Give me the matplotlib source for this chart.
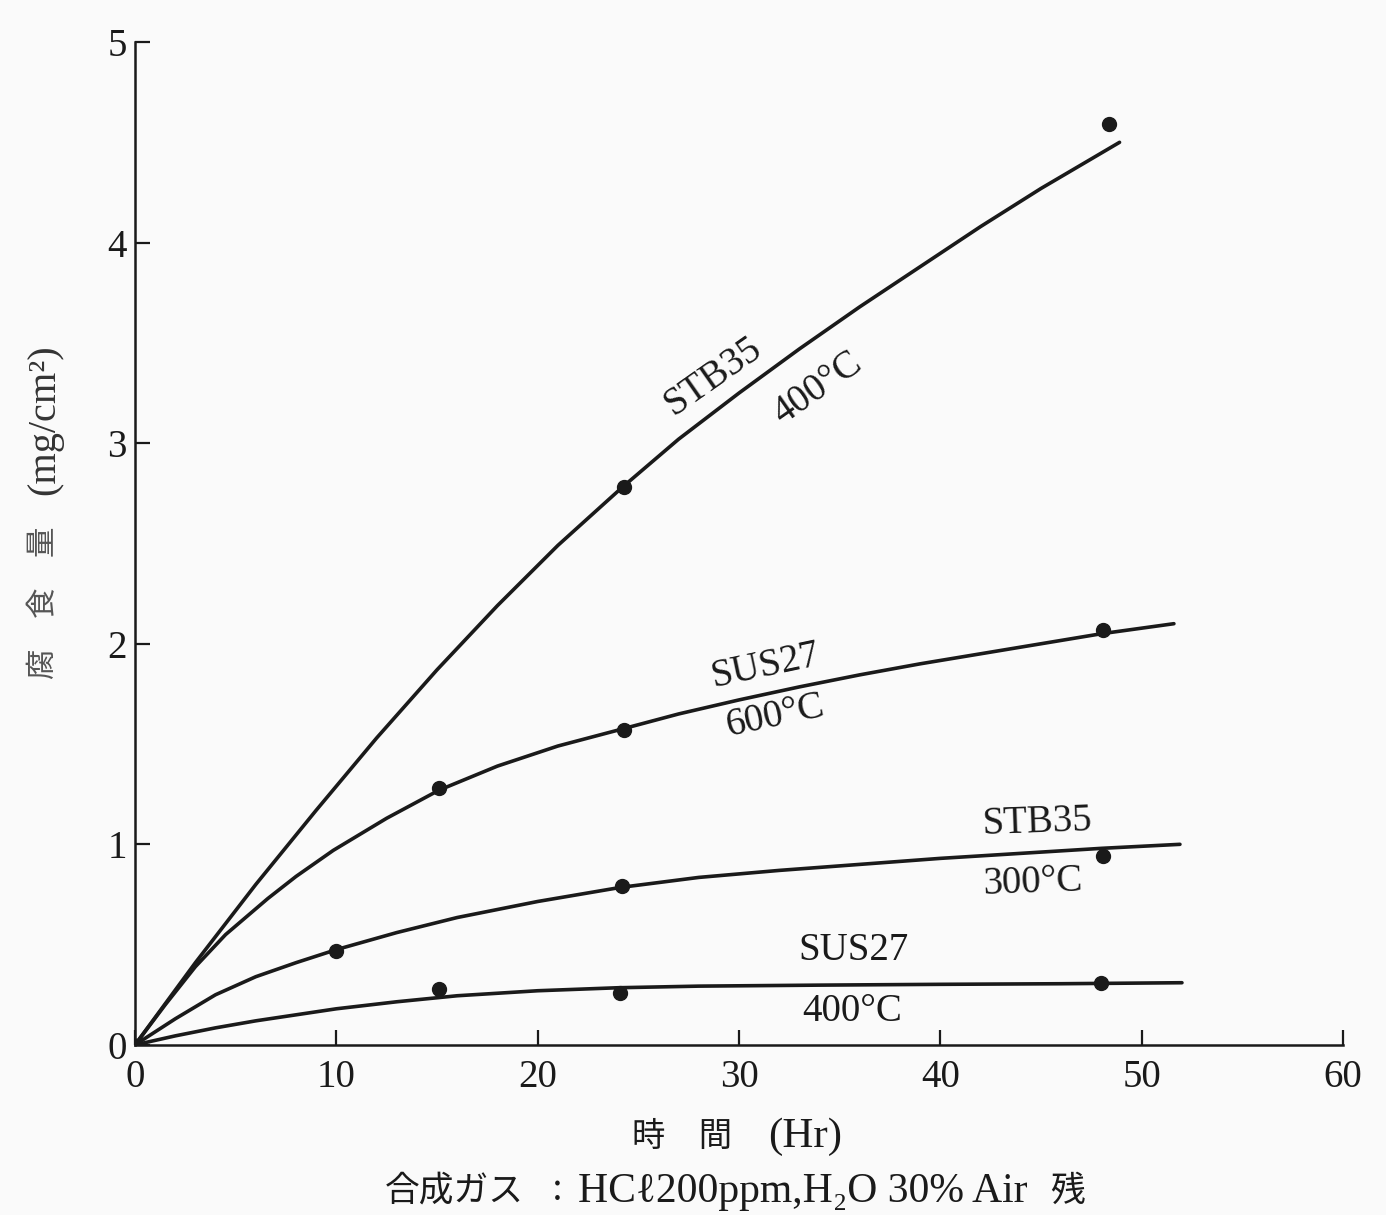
"""
Corrosion loss vs. exposure time for STB35 / SUS27 in synthetic gas
(HCl 200ppm, H2O 30%, balance air). Values read off the scanned figure.
"""

import matplotlib
matplotlib.use("Agg")
import matplotlib.pyplot as plt

plt.rcParams["font.family"] = ["Liberation Serif", "Noto Sans CJK JP", "DejaVu Serif"]

# fitted curves (hand-drawn in the original)
stb35_400_x = [0, 3, 6, 9, 12, 15, 18, 21, 24.2, 27, 30, 33, 36, 39, 42, 45, 48.9]
stb35_400_y = [0, 0.41, 0.80, 1.17, 1.53, 1.87, 2.19, 2.49, 2.78, 3.02, 3.25, 3.47, 3.68,
               3.88, 4.08, 4.27, 4.50]

sus27_600_x = [0, 1.5, 3, 4.5, 6.6, 8, 9.85, 12.5, 15.1, 18, 21, 24.2, 27, 30, 33, 36, 39,
               42, 45, 48, 51.6]
sus27_600_y = [0, 0.20, 0.39, 0.55, 0.73, 0.84, 0.97, 1.13, 1.27, 1.39, 1.49, 1.575, 1.65,
               1.72, 1.785, 1.845, 1.90, 1.95, 2.00, 2.05, 2.10]

stb35_300_x = [0, 2, 4, 6, 8, 10, 13, 16, 20, 24.1, 28, 32, 36, 40, 44, 48, 51.9]
stb35_300_y = [0, 0.13, 0.25, 0.34, 0.41, 0.475, 0.56, 0.635, 0.715, 0.785, 0.835, 0.87,
               0.90, 0.93, 0.955, 0.98, 1.0]

sus27_400_x = [0, 2, 4, 6, 8, 10, 13, 16, 20, 24, 28, 34, 40, 46, 52]
sus27_400_y = [0, 0.045, 0.085, 0.12, 0.15, 0.18, 0.215, 0.245, 0.27, 0.285, 0.293, 0.298,
               0.302, 0.305, 0.31]

# measured points
stb35_400_px = [24.3, 48.4]
stb35_400_py = [2.78, 4.59]
sus27_600_px = [15.1, 24.3, 48.1]
sus27_600_py = [1.28, 1.57, 2.07]
stb35_300_px = [10.0, 24.2, 48.1]
stb35_300_py = [0.47, 0.79, 0.94]
sus27_400_px = [15.1, 24.1, 48.0]
sus27_400_py = [0.28, 0.26, 0.31]
origin_px = [0]
origin_py = [0]

x_ticks = [0, 10, 20, 30, 40, 50, 60]
y_ticks = [0, 1, 2, 3, 4, 5]

ink = "#1a1a1a"
bg = "#fafafa"
W, H = 1386, 1215

fig = plt.figure(figsize=(W / 100, H / 100), dpi=100, facecolor=bg)
ax = fig.add_axes([0.0974, 0.140, 0.8716, 0.8254], facecolor=bg)

curves = [
    (stb35_400_x, stb35_400_y, stb35_400_px, stb35_400_py),
    (sus27_600_x, sus27_600_y, sus27_600_px, sus27_600_py),
    (stb35_300_x, stb35_300_y, stb35_300_px, stb35_300_py),
    (sus27_400_x, sus27_400_y, sus27_400_px, sus27_400_py),
]
for cx, cy, px, py in curves:
    ax.plot(cx, cy, color=ink, lw=2.6, solid_capstyle="round", solid_joinstyle="round")
    ax.plot(px, py, "o", color=ink, ms=10, mec=ink)
ax.plot(origin_px, origin_py, "o", color=ink, ms=9)

ax.set_xlim(0, 60)
ax.set_ylim(0, 5)
ax.set_xticks(x_ticks)
ax.set_yticks(y_ticks)
ax.tick_params(direction="in", length=11, width=1.6, colors=ink, labelsize=28)
ax.tick_params(axis="x", pad=10)
ax.tick_params(axis="y", pad=6)
for side in ("top", "right"):
    ax.spines[side].set_visible(False)
for side in ("left", "bottom"):
    ax.spines[side].set_linewidth(1.8)
    ax.spines[side].set_color(ink)

# curve annotations
lab = dict(fontsize=28, color=ink, ha="center", va="center")
ax.text(28.7, 3.33, "STB35", rotation=35, **lab)
ax.text(33.9, 3.27, "400°C", rotation=35, **lab)
ax.text(31.3, 1.89, "SUS27", rotation=12, **lab)
ax.text(31.8, 1.64, "600°C", rotation=12, **lab)
ax.text(44.8, 1.11, "STB35", rotation=2, **lab)
ax.text(44.6, 0.81, "300°C", rotation=2, **lab)
ax.text(35.7, 0.47, "SUS27", **lab)
ax.text(35.6, 0.165, "400°C", **lab)


def ftext(px, py, s, **kw):
    fig.text(px / W, 1 - py / H, s, color=ink, va="center", **kw)


# x-axis title
ftext(682, 1137, "時　間", fontsize=24, ha="center")
ftext(805, 1137, "(Hr)", fontsize=31, ha="center")

# gas composition caption
ftext(385, 1192, "合成ガス", fontsize=25, ha="left")
ftext(557, 1190, ":", fontsize=28, ha="center")
ftext(578, 1192, "HCℓ200ppm,H₂O 30% Air", fontsize=30, ha="left")
ftext(1050, 1192, "残", fontsize=25, ha="left")

# y-axis title (vertical)
fig.text(45 / W, 1 - 603 / H, "腐　食　量", fontsize=22, color="#555555",
         rotation=90, ha="center", va="center")
fig.text(45 / W, 1 - 420 / H, "(mg/cm²)", fontsize=29, color="#333333",
         rotation=90, ha="center", va="center")

fig.savefig("out.png", dpi=100, facecolor=bg)
